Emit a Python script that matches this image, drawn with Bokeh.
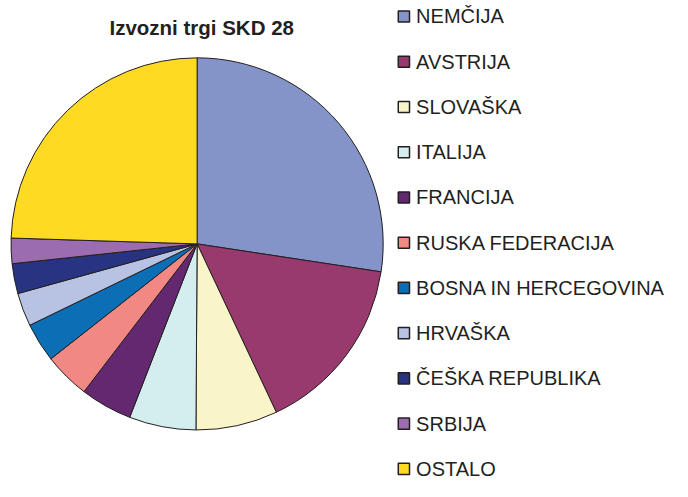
import numpy as np
from bokeh.plotting import figure
from bokeh.models import Range1d, ColumnDataSource
from bokeh.core.properties import value
from bokeh.embed import file_html
from bokeh.resources import INLINE

title_text = "Izvozni trgi SKD 28"
countries = ["NEMČIJA", "AVSTRIJA", "SLOVAŠKA", "ITALIJA", "FRANCIJA",
             "RUSKA FEDERACIJA", "BOSNA IN HERCEGOVINA", "HRVAŠKA",
             "ČEŠKA REPUBLIKA", "SRBIJA", "OSTALO"]
shares = [27.4, 15.6, 7.1, 5.8, 4.5, 4.0, 3.4, 2.9, 2.6, 2.2, 24.5]
colors = ["#8494C8", "#983A6E", "#FAF5C8", "#D4EEF0", "#642870",
          "#F28884", "#0C6EB4", "#B8C2E2", "#283482", "#9C6CB0", "#FEDA22"]

# figure fits the 688x497 window with its 8px margin
W, H = 672, 481
# layout coordinates expressed in the reference's 688x497 frame
REF_W, REF_H = 688, 497

p = figure(width=W, height=H, output_backend="svg", toolbar_location=None,
           x_range=Range1d(0, REF_W), y_range=Range1d(0, REF_H),
           min_border=0, x_axis_location=None, y_axis_location=None)
p.grid.visible = False
p.outline_line_color = None
p.background_fill_color = "white"
p.border_fill_color = "white"

# pie
vals = np.array(shares, dtype=float)
frac = vals / vals.sum()
cum = np.concatenate([[0], np.cumsum(frac)])
start = np.pi / 2 - cum[:-1] * 2 * np.pi
end = np.pi / 2 - cum[1:] * 2 * np.pi
cx, cy_ref, r = 201.3, 251.5, 190.5
src = ColumnDataSource(dict(start=start, end=end, color=colors, name=countries))
p.wedge(x=cx, y=REF_H - cy_ref, radius=r, start_angle="start", end_angle="end",
        direction="clock", fill_color="color", line_color="#231F20", line_width=1,
        source=src)

# title
p.text(x=[206], y=[REF_H - 28], text=[title_text], text_font=value("Liberation Sans"),
       text_font_size="20.5px", text_font_style="bold", text_color="#231F20",
       text_align="center", text_baseline="middle")

# legend (manual)
n = len(countries)
row_top, row_step = 16.5, 46.75
ys = [REF_H - (row_top + i * row_step) for i in range(n)]
lsrc = ColumnDataSource(dict(y=ys, color=colors, name=countries))
p.rect(x=413, y="y", width=11.5, height=11.5, fill_color="color",
       line_color="#231F20", line_width=1.5, source=lsrc)
p.text(x=425.5, y="y", text="name", source=lsrc, text_font=value("Liberation Sans"),
       text_font_size="20px", text_color="#231F20", text_align="left",
       text_baseline="middle")

open("out.html", "w").write(file_html(p, INLINE))
